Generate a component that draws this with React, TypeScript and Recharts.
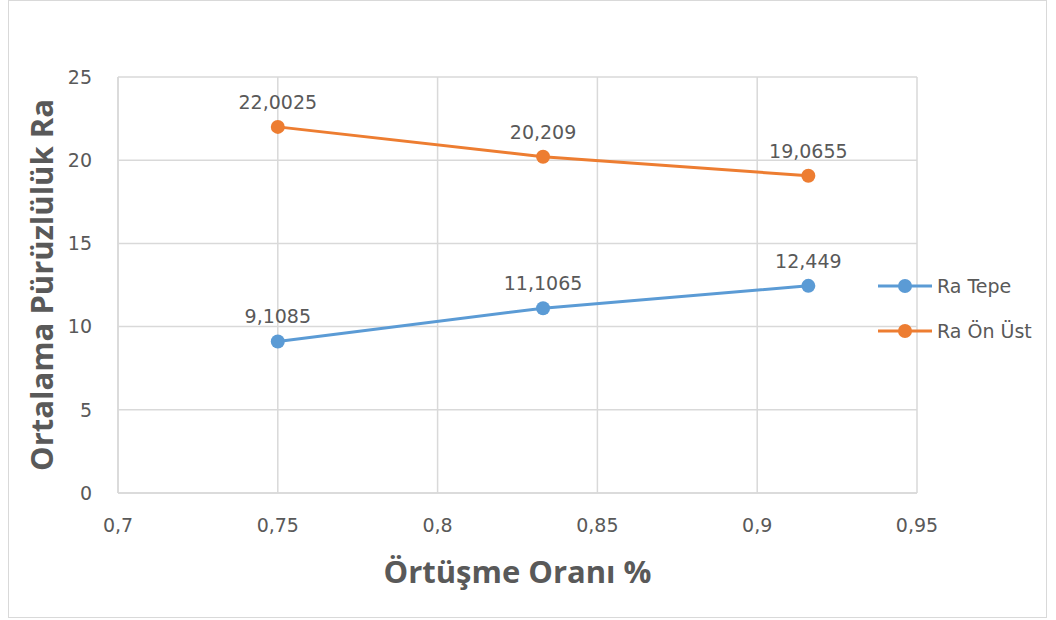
import React from 'react';
import {
    LineChart,
    Line,
    XAxis,
    YAxis,
    CartesianGrid,
    LabelList,
} from 'recharts';

const overlap = [0.75, 0.833, 0.916];
const raTepe = [9.1085, 11.1065, 12.449];
const raOnUst = [22.0025, 20.209, 19.0655];
const xTicks = [0.7, 0.75, 0.8, 0.85, 0.9, 0.95];
const yTicks = [0, 5, 10, 15, 20, 25];

const BLUE = '#5B9BD5';
const ORANGE = '#ED7D31';
const TEXT = '#595959';
const FONT = '"DejaVu Sans", sans-serif';
const TITLE_FONT = '"Open Sans", "Liberation Sans", sans-serif';

const tepeData = overlap.map((x, i) => ({ x, y: raTepe[i] }));
const onUstData = overlap.map((x, i) => ({ x, y: raOnUst[i] }));

const comma = (v: number | string) => String(v).replace('.', ',');

const series = [
    { name: 'Ra Tepe', color: BLUE },
    { name: 'Ra Ön Üst', color: ORANGE },
];

function LegendBox() {
    return (
        <div style={{ position: 'absolute', left: 878, top: 263 }}>
            {series.map(it => (
                <div key={it.name} style={{ display: 'flex', alignItems: 'center', height: 45 }}>
                    <svg width={56} height={16}>
                        <line x1={0} y1={8} x2={54} y2={8} stroke={it.color} strokeWidth={3} />
                        <circle cx={27} cy={8} r={7} fill={it.color} />
                    </svg>
                    <span style={{ fontFamily: FONT, fontSize: 19, color: TEXT, marginLeft: 3 }}>{it.name}</span>
                </div>
            ))}
        </div>
    );
}

export default function App() {
    return (
        <div style={{ position: 'absolute', left: 0, top: 0, width: 1056, height: 620, background: '#fff' }}>
            <div
                style={{
                    position: 'absolute',
                    left: 8,
                    top: 0,
                    width: 1037,
                    height: 616,
                    border: '1.5px solid #D9D9D9',
                }}
            />
            <LineChart
                width={1056}
                height={620}
                margin={{ top: 77, right: 139, left: 58, bottom: 97 }}
                style={{ position: 'absolute', left: 0, top: 0 }}
            >
                <CartesianGrid stroke="#D9D9D9" strokeWidth={1.5} />
                <XAxis
                    type="number"
                    dataKey="x"
                    domain={[0.7, 0.95]}
                    ticks={xTicks}
                    tickFormatter={comma}
                    allowDuplicatedCategory={false}
                    stroke="#D9D9D9"
                    strokeWidth={1.5}
                    tickLine={false}
                    height={30}
                    tickMargin={20}
                    tick={{ fill: TEXT, fontSize: 19, fontFamily: FONT }}
                    label={{
                        value: 'Örtüşme Oranı %',
                        position: 'insideBottom',
                        offset: -60,
                        fill: TEXT,
                        fontSize: 31,
                        fontWeight: 'bold',
                        fontFamily: TITLE_FONT,
                    }}
                />
                <YAxis
                    type="number"
                    dataKey="y"
                    domain={[0, 25]}
                    ticks={yTicks}
                    stroke="#D9D9D9"
                    strokeWidth={1.5}
                    tickLine={false}
                    width={60}
                    tickMargin={20}
                    tick={{ fill: TEXT, fontSize: 19, fontFamily: FONT }}
                    label={{
                        value: 'Ortalama Pürüzlülük Ra',
                        angle: -90,
                        position: 'insideLeft',
                        offset: -16,
                        style: { textAnchor: 'middle' },
                        fill: TEXT,
                        fontSize: 31,
                        fontWeight: 'bold',
                        fontFamily: TITLE_FONT,
                    }}
                />
                <Line
                    data={tepeData}
                    dataKey="y"
                    name="Ra Tepe"
                    stroke={BLUE}
                    strokeWidth={3}
                    dot={{ r: 7, fill: BLUE, stroke: BLUE, strokeWidth: 0 }}
                    isAnimationActive={false}
                >
                    <LabelList
                        dataKey="y"
                        position="top"
                        offset={18}
                        formatter={comma}
                        style={{ fill: TEXT, fontSize: 19, fontFamily: FONT }}
                    />
                </Line>
                <Line
                    data={onUstData}
                    dataKey="y"
                    name="Ra Ön Üst"
                    stroke={ORANGE}
                    strokeWidth={3}
                    dot={{ r: 7, fill: ORANGE, stroke: ORANGE, strokeWidth: 0 }}
                    isAnimationActive={false}
                >
                    <LabelList
                        dataKey="y"
                        position="top"
                        offset={18}
                        formatter={comma}
                        style={{ fill: TEXT, fontSize: 19, fontFamily: FONT }}
                    />
                </Line>
            </LineChart>
            <LegendBox />
        </div>
    );
}
